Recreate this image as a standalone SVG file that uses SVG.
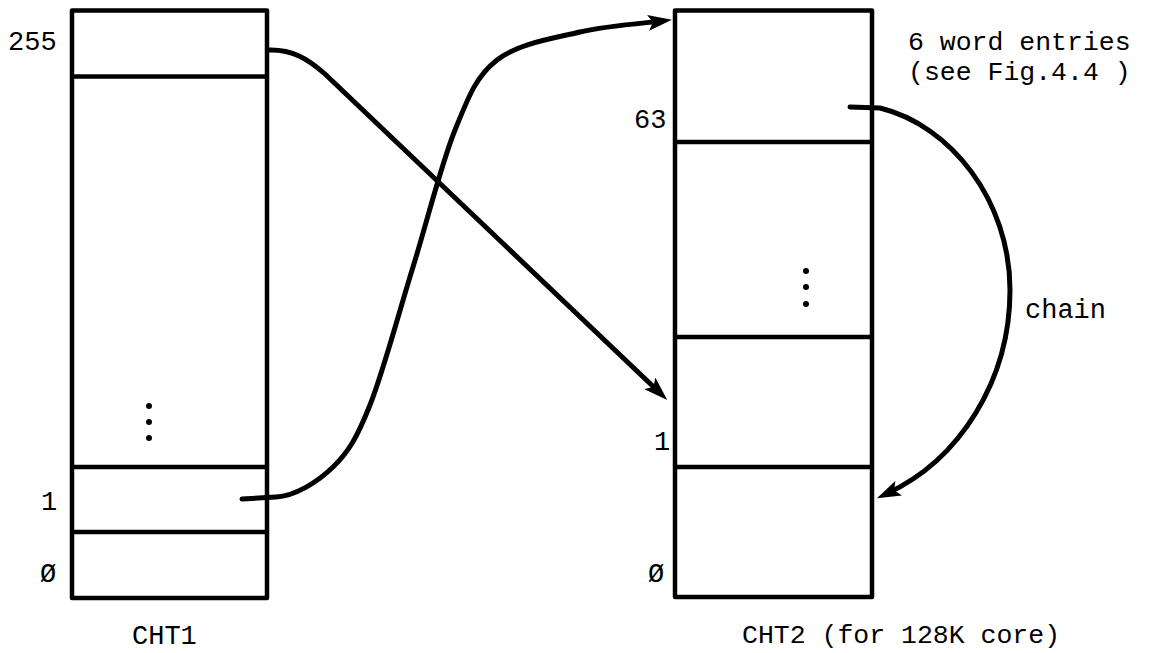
<svg xmlns="http://www.w3.org/2000/svg" width="1150" height="653" viewBox="0 0 1150 653">
<style>
.box{fill:none;stroke:#000;stroke-width:4.5;stroke-linejoin:round}
.div{stroke:#000;stroke-width:4.5}
.con{fill:none;stroke:#000;stroke-width:5;stroke-linecap:round;stroke-linejoin:round}
.t{font-family:"Liberation Mono","DejaVu Sans Mono",monospace;font-size:27px;fill:#000}
.dot{fill:#000}
</style>
<defs>
<marker id="ah" markerUnits="userSpaceOnUse" viewBox="0 0 24 16" markerWidth="24" markerHeight="16" refX="14" refY="8" orient="auto">
<path d="M0,0 L24,8 L0,16 L5,8 z" fill="#000"/>
</marker>
</defs>
<rect width="1150" height="653" fill="#fff"/>
<g id="cht1">
<rect class="box" x="72" y="10.5" width="195" height="587.5"/>
<line class="div" x1="72" y1="76.5" x2="267" y2="76.5"/>
<line class="div" x1="72" y1="467" x2="267" y2="467"/>
<line class="div" x1="72" y1="532" x2="267" y2="532"/>
<circle class="dot" cx="149" cy="406" r="3"/>
<circle class="dot" cx="149" cy="422" r="3"/>
<circle class="dot" cx="149" cy="438" r="3"/>
<text class="t" x="8" y="50">255</text>
<text class="t" x="41" y="510">1</text>
<text class="t" x="40" y="582">Ø</text>
<text class="t" x="132" y="644">CHT1</text>
</g>
<g id="cht2">
<rect class="box" x="675" y="10.5" width="197" height="586.5"/>
<line class="div" x1="675" y1="142" x2="872" y2="142"/>
<line class="div" x1="675" y1="337" x2="872" y2="337"/>
<line class="div" x1="675" y1="467" x2="872" y2="467"/>
<circle class="dot" cx="806" cy="271" r="3"/>
<circle class="dot" cx="806" cy="287" r="3"/>
<circle class="dot" cx="806" cy="304" r="3"/>
<text class="t" x="634" y="128">63</text>
<text class="t" x="654" y="450">1</text>
<text class="t" x="648" y="582">Ø</text>
<text class="t" x="742" y="643" style="font-size:26.5px">CHT2 (for 128K core)</text>
</g>
<g id="note">
<text class="t" x="908" y="50" style="font-size:26.5px">6 word entries</text>
<text class="t" x="908" y="80" style="font-size:26.5px">(see Fig.4.4 )</text>
</g>
<g id="chain-label">
<text class="t" x="1025" y="318">chain</text>
</g>
<g id="connectors">
<path class="con" marker-end="url(#ah)" d="M268,50 C292,49 308,59 325,74 L660,393"/>
<path class="con" marker-end="url(#ah)" d="M242,499 L276,497 C295,496 317.3,482.3 333,467 C348.7,451.7 356.7,438.3 370,405 C383.3,371.7 398.8,312.8 413,267 C427.2,221.2 441,164.5 455,130 C469,95.5 476.2,76.3 497,60 C517.8,43.7 551.5,38.7 580,32 C607.5,25.5 648.3,22.8 662,21"/>
<path class="con" marker-end="url(#ah)" d="M850,107 L880,108 C950,125 1010,200 1010,290 C1010,380 960,460 886,494"/>
</g>
</svg>
